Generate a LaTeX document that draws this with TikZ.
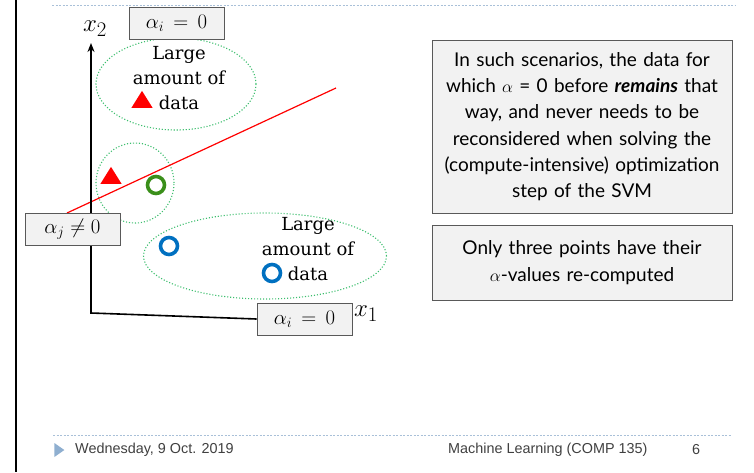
\documentclass[tikz,border=0pt]{standalone}
\usepackage{fontspec}
\setmainfont{DejaVu Serif}
\newfontfamily\boxfont{Lato}
\newfontfamily\footfont{Liberation Sans}
\usetikzlibrary{arrows.meta,shapes.geometric}
\definecolor{boxfill}{HTML}{F2F2F2}
\definecolor{boxline}{HTML}{595959}
\definecolor{dotgreen}{HTML}{3DBE6E}
\definecolor{ringgreen}{HTML}{3A8F1A}
\definecolor{ringblue}{HTML}{0070C0}
\definecolor{trired}{HTML}{FF0000}
\definecolor{rulecol}{HTML}{A9C0D8}
\definecolor{foottext}{HTML}{404040}
\definecolor{footmark}{HTML}{8FAFD0}
\tikzset{
  abox/.style={draw=boxline, fill=boxfill, line width=0.8pt, minimum width=95pt, minimum height=32pt, inner sep=0pt, font=\fontsize{20}{24}\selectfont},
  blob/.style={ellipse, draw=dotgreen, line width=1.1pt, dash pattern=on 1.1pt off 1.9pt, inner sep=0pt},
  tri/.style={isosceles triangle, isosceles triangle apex angle=64, shape border rotate=90, fill=trired, inner sep=0pt, minimum width=19pt, minimum height=17pt},
  ring/.style={circle, draw=#1, line width=3.6pt, minimum size=17pt, inner sep=0pt},
  lbl/.style={font=\fontsize{18}{25}\selectfont, align=center, inner sep=0pt},
  infobox/.style={draw=boxline, fill=boxfill, line width=0.8pt, inner sep=0pt, align=center, text width=300pt, font=\boxfont\fontsize{19}{26.3}\selectfont},
  foot/.style={font=\footfont\fontsize{14.4}{16}\selectfont, text=foottext, inner sep=0pt},
  axislabel/.style={font=\fontsize{28}{30}\selectfont, inner sep=0pt}
}
\begin{document}
\begin{tikzpicture}[x=1pt, y=-1pt]
\useasboundingbox (0,0) rectangle (754,472);
% frame decorations
\draw[line width=2.5pt] (16,0) coordinate (barT) -- (16,472) coordinate (barB);
\draw[rulecol, line width=0.8pt, dash pattern=on 2pt off 1.5pt] (52,5) coordinate (r1a) -- (735,5) coordinate (r1b);
\draw[rulecol, line width=0.8pt, dash pattern=on 2pt off 1.5pt] (53,435) coordinate (r2a) -- (732,435) coordinate (r2b);
% ellipses
\node[blob, minimum width=160pt, minimum height=92pt] (e1) at (176,84) {};
\node[blob, minimum width=78pt, minimum height=80pt] (e2) at (135,183) {};
\node[blob, minimum width=243pt, minimum height=86pt] (e3) at (265,256) {};
% axes
\coordinate (origin) at (91,313);
\coordinate (ytip) at (91,43);
\node[axislabel] (x2) at (95,29) {$x_2$};
\node[axislabel] (x1) at (366,314) {$x_1$};
% separating line
\coordinate (sepA) at (67,213);
\coordinate (sepB) at (336,88);
\draw[trired, line width=1.2pt] (sepA) -- (sepB);
% boxes
\node[abox] (bTop) at (176.5,23) {$\alpha_i\,=\,0$};
\node[abox] (bBot) at (304.5,319) {$\alpha_i\,=\,0$};
\draw[line width=1.6pt, -{Stealth[length=9pt,width=7pt]}] (bBot.west) -- (origin) -- (ytip);
\node[abox] (bLeft) at (72.5,229) {$\alpha_j\neq 0$};
% texts in ellipses
\node[lbl] (t1) at (179,78) {Large\\amount of\\data};
\node[tri] (triA) at (142,102) {};
\node[tri] (triB) at (111,178) {};
\node[ring=ringgreen] (gA) at (156,185) {};
\node[lbl] (t3) at (308,249) {Large\\amount of\\data};
\node[ring=ringblue] (bA) at (169,246) {};
\node[ring=ringblue] (bB) at (272,273) {};
% info boxes
\node[infobox, minimum height=173pt] (info1) at (582,126.5) {In such scenarios, the data for\\ which $\alpha$ = 0 before \textbf{\textit{remains}} that\\ way, and never needs to be\\ reconsidered when solving the\\ (compute-intensive) optimization\\ step of the SVM};
\node[infobox, minimum height=75pt] (info2) at (582,262.5) {Only three points have their\\ $\alpha$-values re-computed};
% footer
\node[isosceles triangle, isosceles triangle apex angle=70, fill=footmark, inner sep=0pt, minimum width=14pt, minimum height=10pt] (fmark) at (58,450) {};
\node[foot, anchor=west] (fdate) at (75,450) {Wednesday, 9 Oct. 2019};
\node[foot, anchor=west] (fcourse) at (448,450) {Machine Learning (COMP 135)};
\node[foot] (fpage) at (696,450) {6};
\end{tikzpicture}
\end{document}
